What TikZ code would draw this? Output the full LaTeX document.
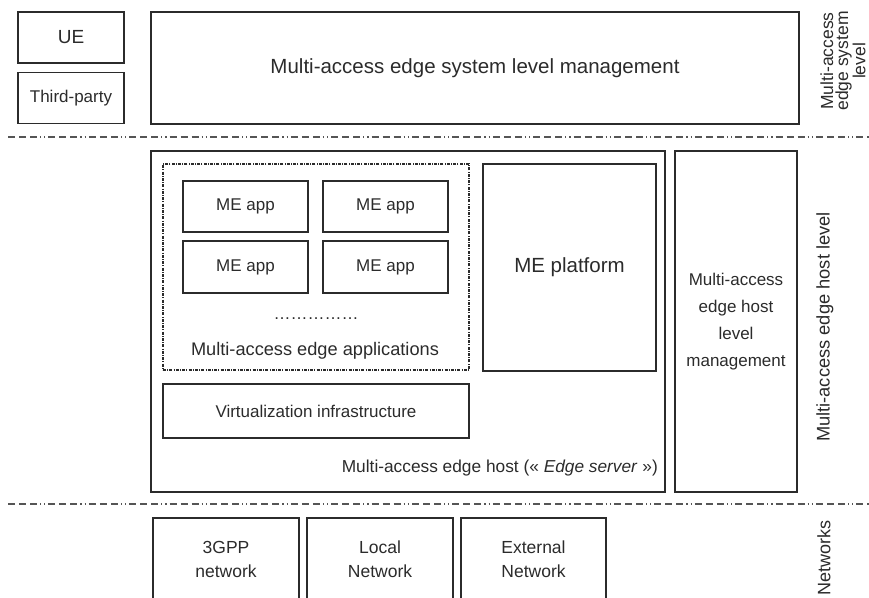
\documentclass[tikz,border=0pt]{standalone}
\usepackage{fontspec}
\setmainfont{Liberation Sans}
\definecolor{ink}{HTML}{2B2B2B}
\tikzset{
  box/.style={draw=ink, line width=1.3pt, inner sep=0pt, text=ink, align=center},
  lbl/.style={inner sep=0pt, text=ink, align=center},
  sep/.style={draw=ink!80, line width=1.1pt, dash pattern=on 7pt off 4pt on 7pt off 4pt on 7pt off 3pt on 1.2pt off 3pt on 1.2pt off 3pt},
  dotbox/.style={draw=ink, line width=1.2pt, dash pattern=on 3pt off 1.2pt on 1pt off 1.2pt, inner sep=0pt}
}
\begin{document}
\begin{tikzpicture}[x=1pt,y=-1pt]
\useasboundingbox (0,0) rectangle (869,597);
\clip (0,0) rectangle (869,597);
% system level
\node[box, minimum width=106pt, minimum height=51pt, font=\fontsize{19}{22}\selectfont] (ue) at (71,37.5) {UE};
\node[box, minimum width=106pt, minimum height=51pt, font=\fontsize{17}{20}\selectfont] (tp) at (71,98) {Third-party};
\node[box, minimum width=648pt, minimum height=112pt, font=\fontsize{20.5}{24}\selectfont] (sys) at (475,68) {Multi-access edge system level management};
\node[lbl, rotate=90, font=\fontsize{17.5}{15}\selectfont] (syslbl) at (843,61) {Multi-access\\edge system\\level};
% separators
\coordinate (s1a) at (8,137); \coordinate (s1b) at (869,137);
\coordinate (s2a) at (8,504); \coordinate (s2b) at (869,504);
\draw[sep] (s1a) -- (s1b);
\draw[sep] (s2a) -- (s2b);
% host level
\node[box, minimum width=514pt, minimum height=341pt] (host) at (408,321.5) {};
\node[dotbox, minimum width=306pt, minimum height=206pt] (apps) at (316,267) {};
\node[box, minimum width=125pt, minimum height=51pt, font=\fontsize{17}{20}\selectfont] (a1) at (245.5,206.5) {ME app};
\node[box, minimum width=125pt, minimum height=51pt, font=\fontsize{17}{20}\selectfont] (a2) at (385.5,206.5) {ME app};
\node[box, minimum width=125pt, minimum height=52pt, font=\fontsize{17}{20}\selectfont] (a3) at (245.5,267) {ME app};
\node[box, minimum width=125pt, minimum height=52pt, font=\fontsize{17}{20}\selectfont] (a4) at (385.5,267) {ME app};
\node[lbl, font=\fontsize{17}{20}\selectfont] (dots) at (316,319) {……………};
\node[lbl, font=\fontsize{18.2}{20}\selectfont] (appslbl) at (315,351) {Multi-access edge applications};
\node[box, minimum width=173pt, minimum height=207pt, font=\fontsize{20.5}{24}\selectfont] (plat) at (569.5,267.5) {ME platform};
\node[box, minimum width=306pt, minimum height=54pt, font=\fontsize{17}{20}\selectfont] (virt) at (316,411) {Virtualization infrastructure};
\node[lbl, anchor=east, font=\fontsize{17.3}{20}\selectfont] (hostlbl) at (658,468) {Multi-access edge host (« \textit{Edge server} »)};
\node[box, minimum width=122pt, minimum height=341pt, font=\fontsize{17}{27}\selectfont] (mgmt) at (736,321.5) {Multi-access\\edge host\\level\\management};
\node[lbl, rotate=90, font=\fontsize{18.3}{20}\selectfont] (hostlvl) at (825,327) {Multi-access edge host level};
% networks
\node[box, minimum width=146pt, minimum height=82pt, font=\fontsize{17.5}{24}\selectfont] (n1) at (226,559) {3GPP\\network};
\node[box, minimum width=146pt, minimum height=82pt, font=\fontsize{17.5}{24}\selectfont] (n2) at (380,559) {Local\\Network};
\node[box, minimum width=145pt, minimum height=82pt, font=\fontsize{17.5}{24}\selectfont] (n3) at (533.5,559) {External\\Network};
\node[lbl, rotate=90, anchor=west, font=\fontsize{18}{20}\selectfont] (netlbl) at (824,596) {Networks};
\end{tikzpicture}
\end{document}
